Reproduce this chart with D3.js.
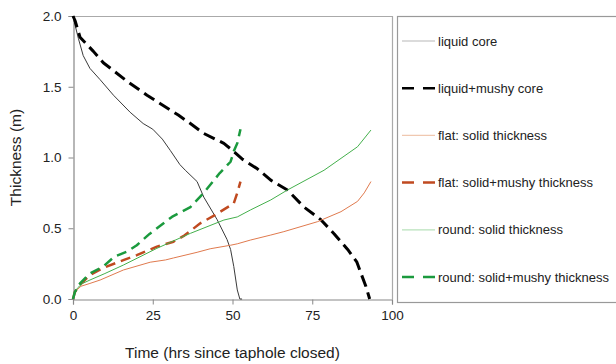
<!DOCTYPE html>
<html>
<head>
<meta charset="utf-8">
<script src="https://cdn.jsdelivr.net/npm/d3@7"></script>
<style>
  body { margin: 0; background: #fff; }
  text { font-family: 'Liberation Sans', Arial, sans-serif; fill: #222; }
</style>
</head>
<body>
<svg id="chart" width="616" height="364"></svg>
<script>
// values: [hours, thickness m]
const liquidCore = [[0,2.0],[0.6,1.94],[1.7,1.84],[3.2,1.72],[5.3,1.63],[8.5,1.55],[12.7,1.44],[17.9,1.32],[22,1.24],[25,1.2],[28,1.13],[30.5,1.05],[33.5,0.95],[35.2,0.91],[38.9,0.83],[41,0.72],[45.2,0.56],[48.3,0.42],[49.4,0.35],[50.4,0.23],[51.5,0.064],[52.3,0.0],[53,0.0]];
const liquidMushyCore = [[0,2.0],[0.6,1.97],[2.2,1.85],[6.4,1.75],[9.5,1.67],[16.9,1.54],[23.2,1.44],[27.4,1.38],[33,1.30],[36.8,1.24],[41,1.17],[47.3,1.10],[50,1.05],[53,0.99],[57.8,0.92],[62,0.84],[67.2,0.77],[72.4,0.65],[77.7,0.56],[81.9,0.46],[86.1,0.35],[89,0.26],[90.3,0.18],[91.8,0.09],[93,0.0]];
const flatSolid = [[0,0],[0.6,0.04],[1.2,0.064],[2.5,0.09],[5.3,0.11],[8.5,0.134],[15.8,0.205],[24.2,0.26],[29,0.276],[31.5,0.29],[38.9,0.33],[43,0.355],[49.4,0.38],[51.5,0.39],[55.7,0.417],[62,0.452],[66.1,0.476],[76.6,0.546],[84,0.617],[89.2,0.69],[91.3,0.75],[93.4,0.83]];
const flatSolidMushy = [[0,0],[0.6,0.05],[2.2,0.1],[5.3,0.17],[9.5,0.22],[15.8,0.275],[20,0.31],[26.3,0.37],[31.5,0.405],[35,0.45],[39.9,0.535],[45,0.6],[50.4,0.676],[51.5,0.75],[52.5,0.83]];
const roundSolid = [[0,0],[0.6,0.05],[1.5,0.08],[3,0.11],[5.3,0.134],[10,0.18],[15.8,0.24],[26.3,0.358],[36.8,0.464],[47.3,0.558],[51.5,0.58],[55.7,0.63],[62,0.70],[67.2,0.77],[78.7,0.91],[89.2,1.076],[93.4,1.194]];
const roundSolidMushy = [[0,0],[0.6,0.05],[2.2,0.11],[5.3,0.18],[9.5,0.23],[13,0.30],[17,0.335],[20,0.38],[24,0.46],[31,0.58],[36.8,0.65],[41,0.75],[46,0.89],[49.4,0.97],[50.5,1.05],[51.5,1.10],[52.5,1.2]];

const xTicks = [0, 25, 50, 75, 100];
const yTicks = [0, 0.5, 1.0, 1.5, 2.0];

const seriesNames = ['liquid core', 'liquid+mushy core', 'flat: solid thickness',
    'flat: solid+mushy thickness', 'round: solid thickness', 'round: solid+mushy thickness'];

const series = [
    {name: seriesNames[0], data: liquidCore, color: '#3a3a3a', width: 1, dash: null, legendColor: '#b8b8b8'},
    {name: seriesNames[1], data: liquidMushyCore, color: '#000', width: 3, dash: '12,6', legendColor: '#000'},
    {name: seriesNames[2], data: flatSolid, color: '#e07a4e', width: 1, dash: null, legendColor: '#f0c8b0'},
    {name: seriesNames[3], data: flatSolidMushy, color: '#c04a20', width: 2.5, dash: '10,6', legendColor: '#c04a20'},
    {name: seriesNames[4], data: roundSolid, color: '#44b04c', width: 1, dash: null, legendColor: '#b8e2bb'},
    {name: seriesNames[5], data: roundSolidMushy, color: '#1b9a3e', width: 2.5, dash: '10,6', legendColor: '#1b9a3e'}
];

const svg = d3.select('#chart');

const plot = {left: 73, right: 392, top: 16, bottom: 299};

const xScale = d3.scaleLinear().domain([0, 100]).range([plot.left, plot.right]);
const yScale = d3.scaleLinear().domain([0, 2]).range([plot.bottom, plot.top]);

// frame (top + right)
svg.append('path')
    .attr('d', `M${plot.left},${plot.top + 0.5}H${plot.right + 0.5}V${plot.bottom}`)
    .attr('fill', 'none')
    .attr('stroke', '#aaa')
    .attr('stroke-width', 1.2);

// axes
const xAxis = svg.append('g')
    .attr('transform', `translate(0, ${plot.bottom + 0.5})`)
    .call(d3.axisBottom(xScale).tickValues(xTicks).tickSize(5).tickPadding(6).tickFormat(d3.format('d')));

const yAxis = svg.append('g')
    .attr('transform', `translate(${plot.left + 0.5}, 0)`)
    .call(d3.axisLeft(yScale).tickValues(yTicks).tickSize(5).tickPadding(7).tickFormat(d3.format('.1f')));

[xAxis, yAxis].forEach(function (ax) {
    ax.select('.domain').attr('stroke', '#888').attr('stroke-width', 1.2);
    ax.selectAll('.tick line').attr('stroke', '#888');
    ax.selectAll('.tick text')
        .style('font-family', "'Liberation Sans', Arial, sans-serif")
        .style('font-size', '13.5px')
        .attr('fill', '#222');
});

// curves
const line = d3.line()
    .x(d => xScale(d[0]))
    .y(d => yScale(d[1]));

series.forEach(function (s) {
    svg.append('path')
        .datum(s.data)
        .attr('d', line)
        .attr('fill', 'none')
        .attr('stroke', s.color)
        .attr('stroke-width', s.width)
        .attr('stroke-dasharray', s.dash)
        .attr('stroke-linejoin', 'round');
});

// axis titles
svg.append('text')
    .attr('x', (plot.left + plot.right) / 2)
    .attr('y', 358)
    .attr('text-anchor', 'middle')
    .style('font-size', '15.5px')
    .text('Time (hrs since taphole closed)');

svg.append('text')
    .attr('transform', `translate(21, ${(plot.top + plot.bottom) / 2}) rotate(-90)`)
    .attr('text-anchor', 'middle')
    .style('font-size', '15.5px')
    .text('Thickness (m)');

// legend
const legendG = svg.append('g');
legendG.append('rect')
    .attr('x', 397.5)
    .attr('y', 16.5)
    .attr('width', 230)
    .attr('height', 286)
    .attr('fill', '#fff')
    .attr('stroke', '#999')
    .attr('stroke-width', 1.2);

const rowY = d3.scaleLinear().domain([0, 5]).range([41, 277]);

series.forEach(function (s, i) {
    const y = rowY(i);
    legendG.append('line')
        .attr('x1', 402)
        .attr('x2', 435)
        .attr('y1', y)
        .attr('y2', y)
        .attr('stroke', s.legendColor)
        .attr('stroke-width', s.dash ? 2.5 : 1.2)
        .attr('stroke-dasharray', s.dash ? '12,9' : null);
    legendG.append('text')
        .attr('x', 438)
        .attr('y', y + 4.5)
        .style('font-size', '13px')
        .text(s.name);
});
</script>
</body>
</html>
